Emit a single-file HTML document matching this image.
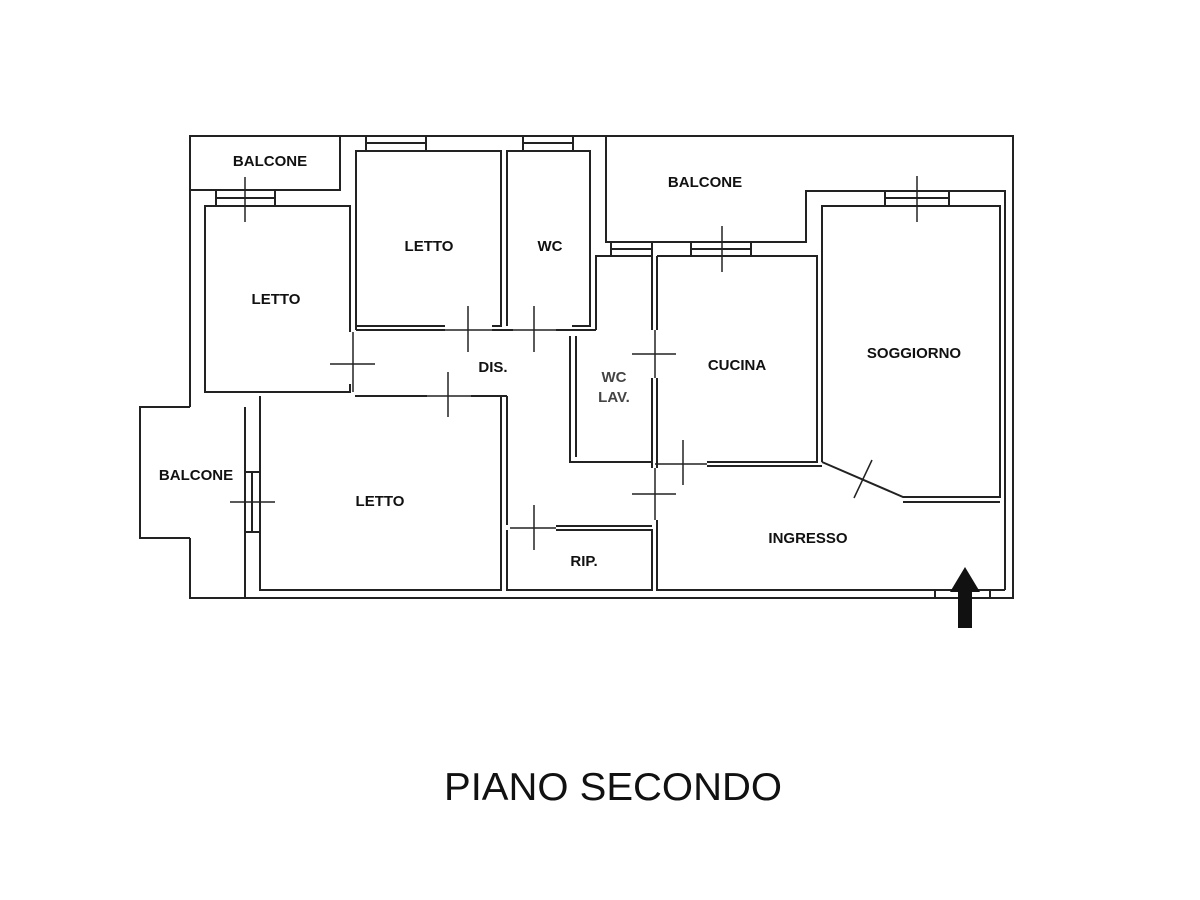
<!DOCTYPE html>
<html><head><meta charset="utf-8"><style>
html,body{margin:0;padding:0;background:#fff;}
svg{display:block;}
text{font-family:"Liberation Sans",sans-serif;}
.l{font-weight:bold;font-size:15px;fill:#111;text-anchor:middle;}
</style></head><body>
<svg width="1200" height="900" viewBox="0 0 1200 900" xmlns="http://www.w3.org/2000/svg">
<g fill="none" stroke="#222" stroke-width="2">
<!-- outer -->
<polyline points="190,407 190,136 1013,136 1013,598 190,598 190,538"/>
<!-- left balcony -->
<polyline points="190,407 140,407 140,538 190,538"/>
<line x1="245" y1="407" x2="245" y2="598"/>
<!-- top-left balcony -->
<polyline points="190,190 340,190 340,136"/>
<!-- rooms -->
<polyline points="350,332 350,206 205,206 205,392 350,392 350,384"/>
<polyline points="356,330 356,151 501,151 501,326 492,326"/>
<polyline points="507,326 507,151 590,151 590,326 572,326"/>
<line x1="356" y1="330" x2="445" y2="330"/>
<line x1="356" y1="326" x2="445" y2="326"/>
<line x1="492" y1="330" x2="513" y2="330"/>
<line x1="556" y1="330" x2="596" y2="330"/>
<line x1="355" y1="396" x2="427" y2="396"/>
<line x1="471" y1="396" x2="507" y2="396"/>
<polyline points="260,396 260,590 501,590 501,396"/>
<line x1="507" y1="396" x2="507" y2="525"/>
<polyline points="507,530 507,590 652,590 652,530 556,530"/>
<line x1="556" y1="526" x2="652" y2="526"/>
<!-- wc lav -->
<polyline points="570,336 570,462 652,462"/>
<polyline points="576,336 576,457"/>
<polyline points="596,330 596,256 652,256 652,330"/>
<line x1="657" y1="330" x2="657" y2="256"/>
<line x1="652" y1="378" x2="652" y2="468"/>
<line x1="657" y1="378" x2="657" y2="468"/>
<!-- cucina -->
<polyline points="657,256 817,256 817,462 707,462"/>
<line x1="707" y1="466" x2="822" y2="466"/>
<!-- top right balcony -->
<polyline points="606,136 606,242 806,242 806,191 1005,191 1005,590"/>
<!-- soggiorno -->
<polyline points="822,462 822,206 1000,206 1000,497 903,497 822,462"/>
<line x1="903" y1="502" x2="1000" y2="502"/>
<!-- ingresso -->
<polyline points="657,520 657,590 1005,590"/>
<!-- windows -->
<rect x="366" y="136" width="60" height="15"/><line x1="366" y1="143" x2="426" y2="143"/>
<rect x="523" y="136" width="50" height="15"/><line x1="523" y1="143" x2="573" y2="143"/>
<rect x="216" y="190" width="59" height="16"/><line x1="216" y1="198" x2="275" y2="198"/>
<rect x="611" y="242" width="41" height="14"/><line x1="611" y1="249" x2="652" y2="249"/>
<rect x="691" y="242" width="60" height="14"/><line x1="691" y1="249" x2="751" y2="249"/>
<rect x="885" y="191" width="64" height="15"/><line x1="885" y1="198" x2="949" y2="198"/>
<rect x="245" y="472" width="15" height="60"/><line x1="252" y1="472" x2="252" y2="532"/>
<rect x="935" y="590" width="55" height="8"/>
</g>
<!-- door crosses -->
<g stroke="#222" stroke-width="1.5">
<line x1="245" y1="177" x2="245" y2="222"/><line x1="330" y1="364" x2="375" y2="364"/>
<line x1="353" y1="332" x2="353" y2="392"/>
<line x1="468" y1="306" x2="468" y2="352"/><line x1="445" y1="330" x2="492" y2="330"/>
<line x1="534" y1="306" x2="534" y2="352"/><line x1="513" y1="330" x2="556" y2="330"/>
<line x1="448" y1="372" x2="448" y2="417"/><line x1="427" y1="396" x2="471" y2="396"/>
<line x1="230" y1="502" x2="275" y2="502"/>
<line x1="534" y1="505" x2="534" y2="550"/><line x1="510" y1="528" x2="556" y2="528"/>
<line x1="632" y1="354" x2="676" y2="354"/><line x1="655" y1="330" x2="655" y2="378"/>
<line x1="683" y1="440" x2="683" y2="485"/><line x1="655" y1="464" x2="707" y2="464"/>
<line x1="632" y1="494" x2="676" y2="494"/><line x1="655" y1="468" x2="655" y2="520"/>
<line x1="722" y1="226" x2="722" y2="272"/>
<line x1="917" y1="176" x2="917" y2="222"/>
<line x1="872" y1="460" x2="854" y2="498"/>
</g>
<!-- arrow -->
<polygon points="965,567 950,592 958,592 958,628 972,628 972,592 980,592" fill="#111"/>
<!-- labels -->
<text class="l" x="270" y="166">BALCONE</text>
<text class="l" x="276" y="304">LETTO</text>
<text class="l" x="429" y="251">LETTO</text>
<text class="l" x="550" y="251">WC</text>
<text class="l" x="705" y="187">BALCONE</text>
<text class="l" x="493" y="372">DIS.</text>
<text class="l" x="614" y="382" style="fill:#444">WC</text>
<text class="l" x="614" y="402" style="fill:#444">LAV.</text>
<text class="l" x="737" y="370">CUCINA</text>
<text class="l" x="914" y="358">SOGGIORNO</text>
<text class="l" x="196" y="480">BALCONE</text>
<text class="l" x="380" y="506">LETTO</text>
<text class="l" x="584" y="566">RIP.</text>
<text class="l" x="808" y="543">INGRESSO</text>
<text x="444" y="800" font-size="39" fill="#111" textLength="338" lengthAdjust="spacingAndGlyphs">PIANO SECONDO</text>
</svg>
</body></html>
